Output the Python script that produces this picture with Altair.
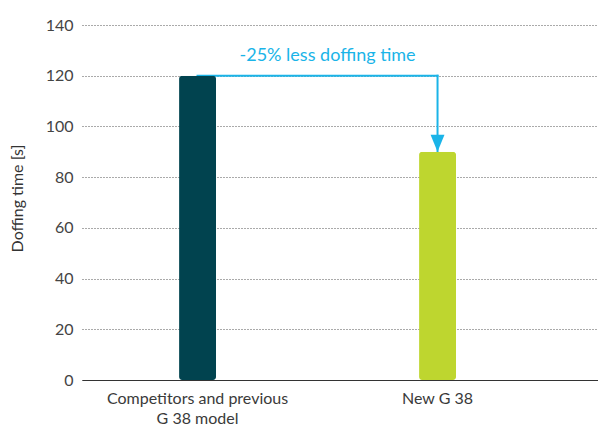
import altair as alt
import pandas as pd

categories = ["Competitors and previous G 38 model", "New G 38"]
values = [120, 90]
bar_colors = ["#01434F", "#BED62F"]

arrow_label = "-25% less doffing time"
arrow_from = categories[0]
arrow_to = categories[1]
arrow_start_value = values[0]
arrow_end_value = values[1]

y_ticks = [0, 20, 40, 60, 80, 100, 120, 140]

cyan = "#1AB4E8"
FONT = "Lato"

bars_df = pd.DataFrame({"cat": categories, "val": values})
ann_df = pd.DataFrame({
    "from": [arrow_from], "to": [arrow_to],
    "y1": [arrow_start_value], "y2": [arrow_end_value],
    "label": [arrow_label],
})

xscale = alt.Scale(domain=categories, paddingInner=0.846, paddingOuter=0.498, align=0.406)
yscale = alt.Scale(domain=[0, 140], nice=False)

x_axis = alt.Axis(
    title=None, ticks=False, labelAngle=0, labelPadding=10, labelLimit=400,
    labelFontSize=16, labelColor="#3a3a3a", labelFont=FONT, labelLineHeight=20,
    domainColor="#333333", domainWidth=1.2,
    labelExpr="datum.label == 'Competitors and previous G 38 model' ? ['Competitors and previous', 'G 38 model'] : datum.label",
)
y_axis = alt.Axis(
    title="Doffing time [s]", values=y_ticks, grid=True, gridDash=[1, 2],
    gridColor="#555555", gridWidth=1, domain=False, ticks=False,
    labelPadding=9, labelFontSize=16, labelColor="#444444", labelFont=FONT,
    titleFont=FONT, titleFontSize=16, titleFontWeight="normal", titleColor="#333333",
    titleX=-65, titleY=173, titleAngle=-90, titleAlign="center", titleBaseline="middle",
)

base_bars = alt.Chart(bars_df)
base_ann = alt.Chart(ann_df)

hrule = base_ann.mark_rule(color=cyan, strokeWidth=2, strokeCap="square").encode(
    x=alt.X("from:N", scale=xscale, axis=x_axis),
    x2="to:N",
    y=alt.Y("y1:Q", scale=yscale, axis=y_axis),
)
vrule = base_ann.mark_rule(color=cyan, strokeWidth=2, strokeCap="square").encode(
    x=alt.X("to:N", scale=xscale),
    y=alt.Y("y1:Q", scale=yscale),
    y2="y2:Q",
)
bars = base_bars.mark_bar(cornerRadius=3).encode(
    x=alt.X("cat:N", scale=xscale, axis=x_axis, sort=categories),
    y=alt.Y("val:Q", scale=yscale, axis=y_axis),
    color=alt.Color("cat:N", scale=alt.Scale(domain=categories, range=bar_colors), legend=None),
)
arrow = base_ann.mark_point(
    shape="M-0.82,-2L0.82,-2L0,0Z", filled=True, opacity=1, size=289, color=cyan, strokeWidth=0
).encode(
    x=alt.X("to:N", scale=xscale),
    y=alt.Y("y2:Q", scale=yscale),
)
text = base_ann.mark_text(
    color=cyan, font=FONT, fontSize=18, align="center", baseline="alphabetic", dx=-110, dy=-15
).encode(
    x=alt.X("to:N", scale=xscale),
    y=alt.Y("y1:Q", scale=yscale),
    text="label:N",
)

chart = alt.layer(hrule, vrule, bars, arrow, text).properties(
    width=516, height=355,
    autosize=alt.AutoSizeParams(type="none"),
    padding={"left": 74, "top": 17, "right": 0, "bottom": 50},
).configure(background="white", view=alt.ViewConfig(stroke=None))

chart.save("out.html", embed_options={"renderer": "svg", "actions": False})
